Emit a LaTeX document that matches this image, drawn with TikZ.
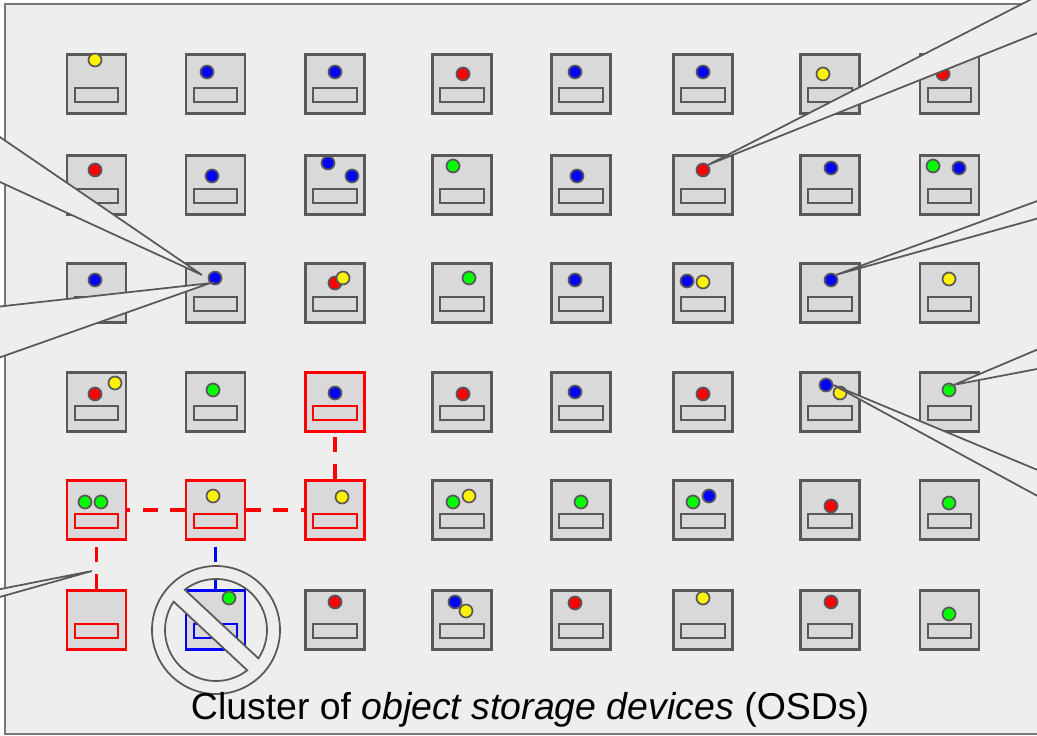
\documentclass[tikz,border=0pt]{standalone}
\usepackage{fontspec}
\setsansfont{Liberation Sans}

\definecolor{bgfill}{HTML}{EEEEEE}
\definecolor{osdfill}{HTML}{D9D9D9}
\definecolor{edge}{HTML}{595959}
\definecolor{framegray}{HTML}{777777}

\tikzset{
  osd/.style={draw=edge, fill=osdfill, line width=1.4pt, minimum size=1.18cm, inner sep=0pt},
  slot/.style={draw=edge, fill=osdfill, line width=1.4pt, minimum width=0.87cm, minimum height=0.28cm, inner sep=0pt},
  pg/.style={circle, draw=edge, fill=#1, line width=1pt, minimum size=0.26cm, inner sep=0pt},
  callout/.style={draw=edge, fill=bgfill, line width=1pt},
  link/.style={line width=2pt, dash pattern=on 8.5pt off 7pt},
  hl-4-3/.style={draw=red}, hl-5-1/.style={draw=red}, hl-5-2/.style={draw=red},
  hl-5-3/.style={draw=red}, hl-6-1/.style={draw=red}, hl-6-2/.style={draw=blue},
}

\begin{document}
\begin{tikzpicture}[x=0.02cm, y=-0.02cm]
  \useasboundingbox (0,0) rectangle (1037,736);
  \clip (0,0) rectangle (1037,736);

  %cluster frame
  \draw[framegray, fill=bgfill, line width=1.3pt] (5,4) rectangle (1080,734);

  %osd grid
  \foreach \yy [count=\ri] in {84,185,293,402,510,620}
    \foreach \xx [count=\ci] in {96.5,215.5,335,462,581,703,830,949.5} {
      \node[osd, hl-\ri-\ci/.try] (osd-\ri-\ci) at (\xx,\yy) {};
      \node[slot, hl-\ri-\ci/.try] (slot-\ri-\ci) at (\xx,\yy+11) {};
    }

  %placement groups
  \foreach \xx/\yy/\fillc/\nm in {
      95/60/yellow/d11, 207/72/blue/d12, 335/72/blue/d13, 463/74/red/d14,
      575/72/blue/d15, 703/72/blue/d16, 823/74/yellow/d17, 943/74/red/d18,
      95/170/red/d21, 212/176/blue/d22, 328/163/blue/d23a, 352/176/blue/d23b,
      453/166/green/d24, 577/176/blue/d25, 703/170/red/d26, 831/168/blue/d27,
      933/166/green/d28a, 959/168/blue/d28b,
      95/280/blue/d31, 215/278/blue/d32, 335/283/red/d33a, 343/278/yellow/d33b,
      469/278/green/d34, 575/280/blue/d35, 687/281/blue/d36a, 703/282/yellow/d36b,
      831/280/blue/d37, 949/279/yellow/d38,
      95/394/red/d41a, 115/383/yellow/d41b, 213/390/green/d42, 335/393/blue/d43,
      463/394/red/d44, 575/392/blue/d45, 703/394/red/d46, 826/385/blue/d47a,
      840/393/yellow/d47b, 949/390/green/d48,
      85/502/green/d51a, 101/502/green/d51b, 213/496/yellow/d52, 342/497/yellow/d53,
      453/502/green/d54a, 469/496/yellow/d54b, 581/502/green/d55, 693/502/green/d56a,
      709/496/blue/d56b, 831/506/red/d57, 949/503/green/d58,
      229/598/green/d62, 335/602/red/d63, 455/602/blue/d64a, 466/611/yellow/d64b,
      575/603/red/d65, 703/598/yellow/d66, 831/602/red/d67, 949/614/green/d68}
    \node[pg=\fillc] (\nm) at (\xx,\yy) {};

  %replication links
  \draw[link, red] (osd-5-3) -- (osd-4-3);
  \draw[link, red] (osd-5-2) -- (osd-5-1);
  \draw[link, red] (osd-5-2) -- (osd-5-3);
  \draw[link, red] (osd-6-1) -- (osd-5-1);
  \draw[link, blue] (osd-6-2) -- (osd-5-2);

  %callouts
  \coordinate (far1a) at (1100,-36);  \coordinate (far1b) at (1100,8);
  \coordinate (far2a) at (1100,178);  \coordinate (far2b) at (1100,201);
  \coordinate (far3a) at (1100,323);  \coordinate (far3b) at (1100,357);
  \coordinate (far4a) at (1100,496);  \coordinate (far4b) at (1100,530);
  \coordinate (tip5) at (202,275);
  \coordinate (far5a) at (-50,103);   \coordinate (far5b) at (-50,159);
  \coordinate (far6a) at (-50,312);   \coordinate (far6b) at (-50,375);
  \coordinate (tip7) at (92,571);
  \coordinate (far7a) at (-50,599);   \coordinate (far7b) at (-50,611);
  \filldraw[callout] (d26.north east) -- (far1a) -- (far1b) -- cycle;
  \filldraw[callout] (d37.north east) -- (far2a) -- (far2b) -- cycle;
  \filldraw[callout] (d48.north east) -- (far3a) -- (far3b) -- cycle;
  \filldraw[callout] (d47a.east) -- (far4a) -- (far4b) -- cycle;
  \filldraw[callout] (tip5) -- (far5a) -- (far5b) -- cycle;
  \filldraw[callout] (d32.south west) -- (far6a) -- (far6b) -- cycle;
  \filldraw[callout] (tip7) -- (far7a) -- (far7b) -- cycle;

  %failed osd
  \begin{scope}[shift={(216,630)}]
    \filldraw[edge, fill=bgfill, line width=1pt, even odd rule] (0,0) circle[radius=64]
      (33.8:51) arc[start angle=33.8, end angle=-127.8, radius=51] -- cycle
      (213.8:51) arc[start angle=213.8, end angle=52.2, radius=51] -- cycle;
  \end{scope}

  \node[font=\sffamily\fontsize{21.3}{25}\selectfont, anchor=base, inner sep=0pt] (caption)
    at (530,719) {Cluster of \textit{object storage devices} (OSDs)};
\end{tikzpicture}
\end{document}
